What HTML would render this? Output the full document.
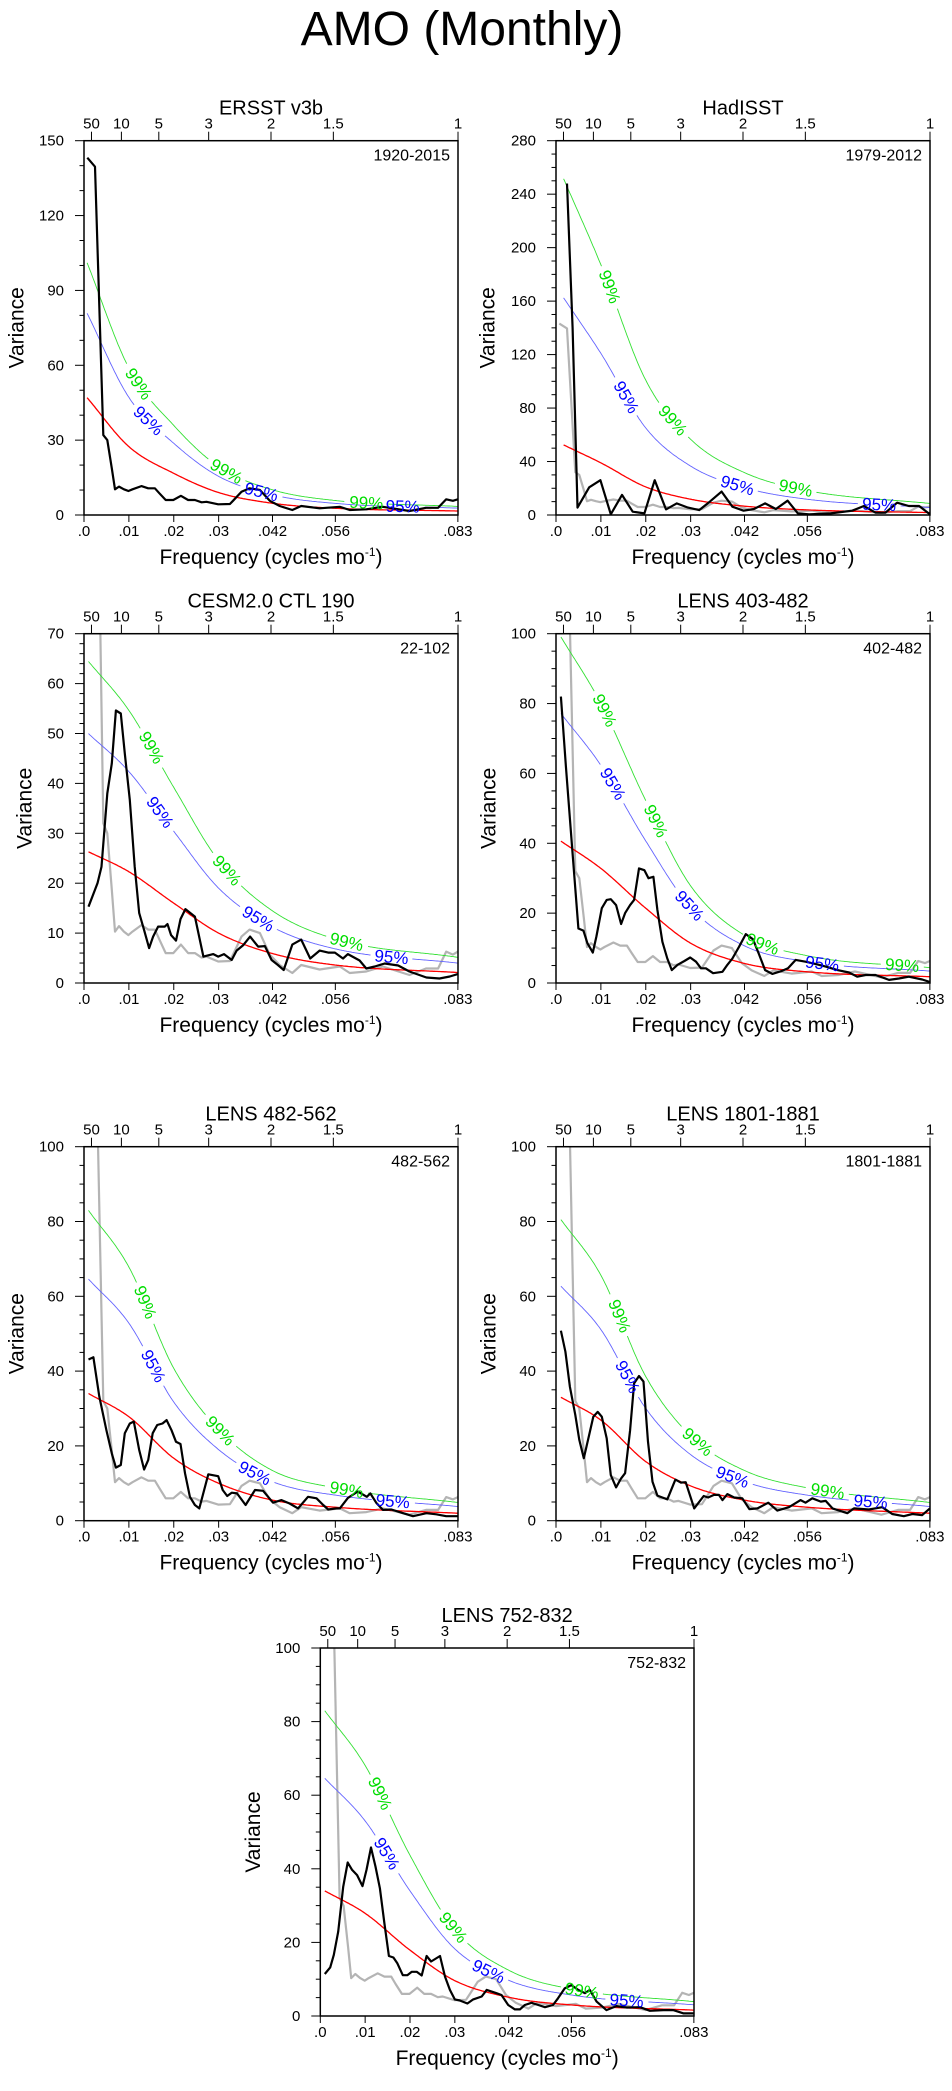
<!DOCTYPE html>
<html><head><meta charset="utf-8"><title>AMO (Monthly)</title>
<style>html,body{margin:0;padding:0;background:#fff}svg{display:block}text{font-family:"Liberation Sans",Arial,sans-serif}</style>
</head><body>
<svg id="chart" xmlns="http://www.w3.org/2000/svg" width="952" height="2091" viewBox="0 0 952 2091">
<text x="462" y="45" font-size="48" text-anchor="middle">AMO (Monthly)</text>
</svg>
<script>
// ERSST reference spectrum (drawn black in panel 1, gray elsewhere)
const ersstF=[.00074,.00245,.0043,.0052,.0062,.0069,.0078,.0089,.0099,.0108,.0128,.0143,.0158,.0168,.0182,.0199,.0216,.0232,.0247,.0262,.0273,.0299,.0325,.0332,.0351,.0369,.0392,.0414,.0436,.0464,.0484,.0525,.057,.0592,.0629,.0666,.0725,.0762,.0789,.0807,.0822,.0833];
const ersstV=[143.2,139.6,32,30,18.7,10.3,11.4,10.3,9.6,10.3,11.6,10.7,10.7,8.7,6,6,7.7,6,6,5.1,5.3,4.3,4.4,5.7,9.3,10.7,10,5.7,3.6,2,3.6,2.7,3.3,2,2.3,3.3,1.6,2.9,2.9,6.3,5.7,6.3];
// HadISST
const hadF=[.00245,.0037,.0048,.0074,.0099,.0122,.0147,.0171,.0197,.022,.0245,.0269,.0294,.0319,.0343,.0369,.0393,.0418,.0441,.0466,.049,.0516,.0539,.0564,.0612,.066,.0686,.0712,.0734,.076,.0786,.0809,.0833];
const hadV=[248,140,5.5,20.7,26,0.5,15,2.5,1.2,26,4.2,8.7,5.5,3.7,10,17.5,6.2,3.2,4.5,8.7,4.5,10.7,1.2,0.5,1.2,3.2,6.7,1.7,1.7,9.2,6.7,6.7,0.5];
// CESM2.0 CTL 190
const cesmF=[.001,.003,.0039,.0052,.0062,.0071,.0082,.0091,.0102,.0113,.0123,.0134,.0145,.0154,.0165,.018,.0186,.0194,.0205,.0215,.0226,.0247,.0266,.0288,.0299,.0312,.0329,.034,.0355,.037,.0388,.0403,.0418,.0432,.0445,.0464,.0484,.0504,.0525,.0544,.0559,.0577,.0588,.0614,.0629,.0648,.067,.07,.0725,.0763,.0792,.0815,.0833];
const cesmV=[15.3,20,23.3,38,44,54.6,54,46,36.7,23.3,14,10.6,7,9.3,11.3,11.3,11.8,9.6,8.5,12.8,14.8,13.3,5.3,5.8,5.3,5.8,4.6,6.5,7.6,9.3,7.3,7.4,4.6,3.6,2.6,7.7,8.7,4.9,6.5,6.1,6.1,4.9,5.8,4.5,2.9,3.3,3.9,3.5,2.3,1.1,0.9,1.3,1.8];
// LENS 403-482
const l403F=[.0011,.0022,.0037,.005,.0061,.007,.0082,.009,.0102,.0113,.0122,.0134,.0145,.0154,.0165,.0174,.0185,.0197,.0206,.0217,.0226,.0237,.0248,.0258,.0271,.0286,.0299,.0312,.0323,.0334,.035,.0371,.0382,.0393,.0408,.0423,.0439,.0452,.0466,.0482,.0504,.0517,.0534,.0556,.0579,.0601,.0627,.0653,.0671,.069,.0712,.0742,.0764,.0786,.0816,.0833];
const l403V=[82,62,37,15.6,15,11.4,8.7,13.3,21.4,23.8,24,22.3,16.9,20,22.3,23.8,32.8,32.3,30,30.4,20.9,11.8,7,3.7,5.2,6.3,7.3,6.1,4.2,4.2,2.8,3.2,5.2,7,10.4,14,12.5,8.3,3.7,2.6,3.5,4.2,6.6,6.1,5.4,4.7,3.7,3,1.8,2.3,2.3,0.9,1.3,1.8,1,0.3];
// LENS 482-562
const l482F=[.001,.0021,.0034,.005,.0062,.0071,.0082,.0091,.0102,.0111,.0123,.0134,.0143,.0153,.0163,.0175,.0184,.0195,.0205,.0215,.0225,.0236,.0247,.0257,.0277,.0299,.0309,.0319,.0329,.0341,.036,.0381,.0399,.0421,.044,.0458,.0477,.0499,.0518,.0533,.0544,.0562,.057,.0588,.061,.063,.0638,.0651,.0666,.0685,.0711,.0733,.0763,.0785,.0807,.0833];
const l482V=[43.1,43.7,33.2,24.2,18,14.2,14.9,23.4,26,26.5,18.9,13.7,16.2,23.4,25.6,26,26.9,24.2,21.1,20.5,12.7,6.4,4.2,3.3,12.4,11.9,8.2,6.6,7.5,7.3,4.2,8.2,8,4.8,5.5,4.6,3.3,6.4,6,4.2,3,3.3,3.3,6.1,7.8,6.4,7.3,4.8,2.9,3,2,1.2,2,1.7,1.2,1.2];
// LENS 1801-1881
const l1801F=[.0011,.0021,.0031,.0043,.0052,.0062,.0073,.0083,.0093,.0102,.0113,.0122,.0134,.0145,.0154,.0165,.0174,.0185,.0195,.0205,.0215,.0226,.0248,.0266,.0278,.0289,.0308,.0329,.0339,.0352,.0363,.0371,.0382,.0397,.0415,.0431,.0449,.0473,.0493,.0519,.0545,.0556,.0571,.059,.0601,.0616,.0649,.0664,.0697,.0727,.0749,.0775,.0794,.0816,.0833];
const l1801V=[50.8,45.2,35.8,28.3,21.6,16.7,22.5,27.8,29.1,27.8,22,12.2,8.9,11.3,12.7,24.2,36.7,38.7,37.2,21.1,10.4,6.7,5.7,11,10.2,10.3,3.3,6.6,6.2,6.9,6.9,5.5,7.1,6.2,6,3.1,3.3,4.8,2.7,3.6,5.5,4.8,6,5.1,5.3,3.3,2,3.3,3,3.6,1.8,1.2,1.8,1.5,3.3];
// LENS 752-832
const l752F=[.001,.0022,.003,.004,.0051,.0061,.0071,.0082,.0094,.0103,.0113,.0123,.0133,.0143,.0153,.0163,.0172,.0184,.0194,.0204,.0215,.0226,.0237,.0247,.0267,.0278,.0289,.03,.0311,.0328,.0341,.036,.0371,.0393,.0404,.0419,.0434,.0445,.0456,.0471,.0486,.0501,.0519,.053,.0545,.056,.0575,.059,.0601,.0616,.0638,.066,.0683,.0713,.0735,.0765,.0787,.081,.0833];
const l752V=[11.4,13.2,16.6,22.9,35.1,41.7,39.7,38.3,35.3,39.7,45.8,40.6,34.7,25.2,16.3,15.9,14.3,11.1,11.1,12,12,11,16.3,14.8,16.3,10.7,7.1,4.5,4.2,3.4,4.5,5.3,7.1,6.2,5.7,3,1.8,1.8,3,3.6,3,2.4,3,4.8,7.5,8.4,7.1,6.2,7.1,3.9,1.6,2.7,2.3,2.4,1.4,1.6,1.6,0.7,0.7];
// red-noise (theoretical) spectra, read at these frequencies
const redFreqTail=[.01,.02,.03,.042,.056,.0833];
const red1=[47,27.4,16.7,9,4.7,2.7,1.6];
const red2=[52.4,39,21,11.8,6.6,3.8,1.8];
const red3=[26.3,22.3,16,10,5.9,3.6,2.1];
const red4=[40.6,32.8,21.4,11.4,5.6,3.2,1.8];
const red5=[34,27.8,16.7,10,5.5,3.6,2];
const red6=[33,26.9,15.8,9.3,5.5,3.6,2];
const red7=[34,27.9,17.9,9.6,5.1,3,1.6];
const redStart=[.0007,.0017,.001,.0011,.001,.0011,.001];
const factor95=[1.72,3.1,1.9,1.9,1.9,1.9,1.9];
const factor99=[2.15,4.8,2.45,2.44,2.44,2.44,2.44];
const lab99=[[.0121,.0317,.0629],[.0119,.026,.0534],[.015,.0318,.0585],[.0108,.0222,.046,.0771],[.0136,.0303,.0585],[.0141,.0315,.0605],[.0133,.0296,.0583]];
const lab95=[[.0143,.0395,.071],[.0156,.0404,.072],[.0169,.0388,.0685],[.0126,.0297,.0593],[.0154,.038,.0688],[.0159,.0393,.0701],[.0148,.0375,.0683]];
const bottomTicks=[0,.01,.02,.03,.042,.056,.0833];
const bottomLabels=['.0','.01','.02','.03','.042','.056','.083'];
const periodTicks=[50,10,5,3,2,1.5,1];

const panels=[
 {title:'ERSST v3b',per:'1920-2015',L:84,T:140.7,W:374,H:374.3,ymax:150,maj:30,min:10,f:ersstF,v:ersstV,gray:false,red:red1,yl:67},
 {title:'HadISST',per:'1979-2012',L:556,T:140.7,W:374,H:374.3,ymax:280,maj:40,min:10,f:hadF,v:hadV,gray:true,red:red2,yl:68},
 {title:'CESM2.0 CTL 190',per:'22-102',L:84,T:633.7,W:374,H:349.3,ymax:70,maj:10,min:2,f:cesmF,v:cesmV,gray:true,red:red3,yl:59},
 {title:'LENS 403-482',per:'402-482',L:556,T:633.7,W:374,H:349.3,ymax:100,maj:20,min:5,f:l403F,v:l403V,gray:true,red:red4,yl:67},
 {title:'LENS 482-562',per:'482-562',L:84,T:1146.7,W:374,H:374,ymax:100,maj:20,min:5,f:l482F,v:l482V,gray:true,red:red5,yl:67},
 {title:'LENS 1801-1881',per:'1801-1881',L:556,T:1146.7,W:374,H:374,ymax:100,maj:20,min:5,f:l1801F,v:l1801V,gray:true,red:red6,yl:67},
 {title:'LENS 752-832',per:'752-832',L:320.3,T:1648,W:373.7,H:368,ymax:100,maj:20,min:5,f:l752F,v:l752V,gray:true,red:red7,yl:67}
];
const NS='http://www.w3.org/2000/svg';
const svg=document.getElementById('chart');
function mk(tag,attrs,parent){const e=document.createElementNS(NS,tag);for(const k in attrs)e.setAttribute(k,attrs[k]);(parent||svg).appendChild(e);return e;}
function mono(xs,ys,x){
 const n=xs.length;const d=[],m=[];
 for(let i=0;i<n-1;i++)d.push((ys[i+1]-ys[i])/(xs[i+1]-xs[i]));
 m[0]=d[0];m[n-1]=d[n-2];
 for(let i=1;i<n-1;i++){m[i]=(d[i-1]*d[i]<=0)?0:(d[i-1]+d[i])/2;}
 for(let i=0;i<n-1;i++){if(d[i]===0){m[i]=0;m[i+1]=0;continue;}const a=m[i]/d[i],b=m[i+1]/d[i],s=a*a+b*b;if(s>9){const t=3/Math.sqrt(s);m[i]=t*a*d[i];m[i+1]=t*b*d[i];}}
 let i=0;while(i<n-2&&x>xs[i+1])i++;
 const h=xs[i+1]-xs[i],t=Math.min(1,Math.max(0,(x-xs[i])/h));
 const t2=t*t,t3=t2*t;
 return (2*t3-3*t2+1)*ys[i]+(t3-2*t2+t)*h*m[i]+(-2*t3+3*t2)*ys[i+1]+(t3-t2)*h*m[i+1];
}
panels.forEach((p,pi)=>{
 const g=mk('g',{});
 
 
 const X=f=>p.L+f/0.08333*p.W;
 const Y=v=>p.T+p.H-v/p.ymax*p.H;
 const cid='clip'+pi;
 const cp=mk('clipPath',{id:cid},g);mk('rect',{x:p.L,y:p.T,width:p.W,height:p.H},cp);
 const plot=mk('g',{'clip-path':'url(#'+cid+')'},g);
 
 
 if(p.gray){
  const gl=mk('polyline',{points:ersstF.map((f,i)=>X(f).toFixed(1)+','+Y(ersstV[i]).toFixed(1)).join(' '),fill:'none',stroke:'#b4b4b4','stroke-width':2.2,'stroke-linejoin':'round'},plot);
  
  
 }
 const rf=[redStart[pi]].concat(redFreqTail);
 const curves=[{fac:1,col:'#ff0000',w:1.3,labs:[],name:'red-noise-line'},
  {fac:factor95[pi],col:'#6464ff',w:0.9,labs:lab95[pi],txt:'95%',tc:'#0000ff',name:'significance-95-line'},
  {fac:factor99[pi],col:'#33e033',w:0.9,labs:lab99[pi],txt:'99%',tc:'#00dd00',name:'significance-99-line'}];
 curves.forEach(c=>{
  const val=f=>mono(rf,p.red,f)*c.fac;
  const centers=c.labs.map(f=>[X(f),Y(val(f))]);
  let d='',pen=false;
  const N=300;
  for(let k=0;k<=N;k++){
   const f=rf[0]+(0.08333-rf[0])*k/N;
   const x=X(f),y=Y(val(f));
   const gap=centers.some(cc=>Math.hypot(cc[0]-x,cc[1]-y)<21);
   if(gap){pen=false;continue;}
   d+=(pen?'L':'M')+x.toFixed(1)+','+y.toFixed(1);pen=true;
  }
  const path=mk('path',{d:d,fill:'none',stroke:c.col,'stroke-width':c.w},plot);
  
  
  c.labs.forEach((f,li)=>{
   const x=X(f),y=Y(val(f));
   const x2=X(f+0.0005),y2=Y(val(f+0.0005));
   const ang=Math.atan2(y2-y,x2-x)*180/Math.PI;
   const t=mk('text',{x:x,y:y,'font-size':17,fill:c.tc,'text-anchor':'middle','dominant-baseline':'central',transform:'rotate('+ang.toFixed(1)+' '+x.toFixed(1)+' '+y.toFixed(1)+')'},g);
   
   
   t.textContent=c.txt;
  });
 });
 const bl=mk('polyline',{points:p.f.map((f,i)=>X(f).toFixed(1)+','+Y(p.v[i]).toFixed(1)).join(' '),fill:'none',stroke:'#000','stroke-width':2.2,'stroke-linejoin':'round'},plot);
 
 
 const fr=mk('rect',{x:p.L,y:p.T,width:p.W,height:p.H,fill:'none',stroke:'#000','stroke-width':1.5},g);
 
 
 for(let v=0;v<=p.ymax+1e-6;v+=p.min){
  const major=Math.abs(v/p.maj-Math.round(v/p.maj))<1e-6;
  mk('line',{x1:p.L,x2:p.L-(major?9:4.5),y1:Y(v),y2:Y(v),stroke:'#000','stroke-width':1},g);
  if(major){const t=mk('text',{x:p.L-20,y:Y(v)+5,'font-size':15,'text-anchor':'end'},g);
   
   
   t.textContent=String(v);}
 }
 bottomTicks.forEach((f,i)=>{
  mk('line',{x1:X(f),x2:X(f),y1:p.T+p.H,y2:p.T+p.H+7,stroke:'#000','stroke-width':1},g);
  const t=mk('text',{x:X(f),y:p.T+p.H+21,'font-size':15,'text-anchor':'middle'},g);
  
  
  t.textContent=bottomLabels[i];
 });
 periodTicks.forEach(P=>{
  const f=1/(12*P);
  mk('line',{x1:X(f),x2:X(f),y1:p.T,y2:p.T-9,stroke:'#000','stroke-width':1},g);
  const t=mk('text',{x:X(f),y:p.T-12,'font-size':15,'text-anchor':'middle'},g);
  
  
  t.textContent=String(P);
 });
 const tt=mk('text',{x:p.L+p.W/2,y:p.T-26,'font-size':20,'text-anchor':'middle'},g);
 
 
 tt.textContent=p.title;
 const pt=mk('text',{x:p.L+p.W-8,y:p.T+20,'font-size':16,'text-anchor':'end'},g);
 
 
 pt.textContent=p.per;
 const yc=p.T+p.H/2,yx=p.L-p.yl;
 const yt=mk('text',{x:yx,y:yc,'font-size':21,'text-anchor':'middle','dominant-baseline':'central',transform:'rotate(-90 '+yx+' '+yc+')'},g);
 
 
 yt.textContent='Variance';
 const xt=mk('text',{x:p.L+p.W/2,y:p.T+p.H+49,'font-size':21,'text-anchor':'middle'},g);
 
 
 xt.appendChild(document.createTextNode('Frequency (cycles mo'));
 const s1=mk('tspan',{dy:-8,'font-size':12},xt);s1.textContent='-1';
 const s2=mk('tspan',{dy:8},xt);s2.textContent=')';
});
</script>
</body></html>
